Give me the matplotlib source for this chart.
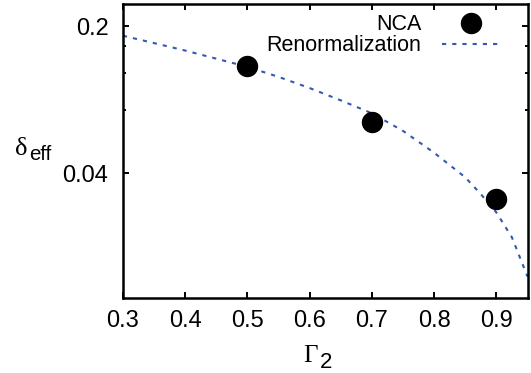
import matplotlib
matplotlib.use("Agg")
import matplotlib.pyplot as plt
from matplotlib.ticker import FixedLocator, NullFormatter, NullLocator

# Data
gamma_nca = [0.5, 0.7, 0.9]
delta_nca = [0.129, 0.0697, 0.0301]

gamma_ren = [0.30, 0.35, 0.40, 0.45, 0.50, 0.55, 0.60, 0.65, 0.70, 0.75,
             0.80, 0.85, 0.875, 0.90, 0.925, 0.95]
delta_ren = [0.180, 0.166, 0.153, 0.140, 0.128, 0.1147, 0.1015, 0.0887, 0.0770,
             0.0635, 0.0500, 0.0382, 0.0318, 0.0260, 0.0198, 0.0129]

xticks = [0.3, 0.4, 0.5, 0.6, 0.7, 0.8, 0.9]
yticks = [0.04, 0.2]
ytick_labels = ["0.04", "0.2"]
yminor = [0.08, 0.12, 0.16]

W, H = 531, 373
fig = plt.figure(figsize=(W / 100, H / 100), dpi=100)
plt.rcParams['font.family'] = ['Liberation Sans', 'DejaVu Sans']
ax = fig.add_axes([123 / W, 1 - 298 / H, (527.5 - 123) / W, (298 - 4) / H])

ax.plot(gamma_ren, delta_ren, color='#3558b0', lw=1.5, linestyle=(0, (2.0, 2.9)),
        label='Renormalization', zorder=2)
ax.plot(gamma_nca, delta_nca, 'o', color='black', ms=14.4, linestyle='none',
        label='NCA', zorder=3)

ax.set_yscale('log')
ax.set_xlim(0.3, 0.95)
ax.set_ylim(0.0102, 0.2547)

ax.xaxis.set_major_locator(FixedLocator(xticks))
ax.xaxis.set_minor_locator(NullLocator())
ax.set_xticklabels([f"{v:.1f}" for v in xticks])
ax.yaxis.set_major_locator(FixedLocator(yticks))
ax.set_yticklabels(ytick_labels)
ax.yaxis.set_minor_locator(FixedLocator(yminor))
ax.yaxis.set_minor_formatter(NullFormatter())

ax.tick_params(which='both', direction='in', top=True, right=True, width=1.4)
ax.tick_params(which='major', length=4.2, labelsize=17)
ax.tick_params(which='minor', length=2.3)
ax.tick_params(axis='x', pad=8.5)
ax.tick_params(axis='y', pad=10.5)
for s in ax.spines.values():
    s.set_linewidth(1.8)

h, l = ax.get_legend_handles_labels()
leg = ax.legend(h[::-1], l[::-1], loc='upper right', bbox_to_anchor=(0.932, 0.965),
                frameon=False, markerfirst=False, fontsize=15.5, handlelength=2.7,
                handletextpad=0.95, borderpad=0, borderaxespad=0, labelspacing=0.0)

# Axis labels composed of Greek symbol and sans-serif subscript
fig.text(303.3 / W, 1 - 361.7 / H, "Γ", family='Liberation Serif', fontsize=18,
         ha='left', va='baseline')
fig.text(319.5 / W, 1 - 367.5 / H, "2", family='Liberation Sans', fontsize=16,
         ha='left', va='baseline')
fig.text(15 / W, 1 - 155 / H, "δ", family='Liberation Serif', fontsize=19,
         ha='left', va='baseline')
fig.text(29.3 / W, 1 - 160 / H, "eff", family='Liberation Sans', fontsize=14.8,
         ha='left', va='baseline')

fig.savefig('out.png', dpi=100)
